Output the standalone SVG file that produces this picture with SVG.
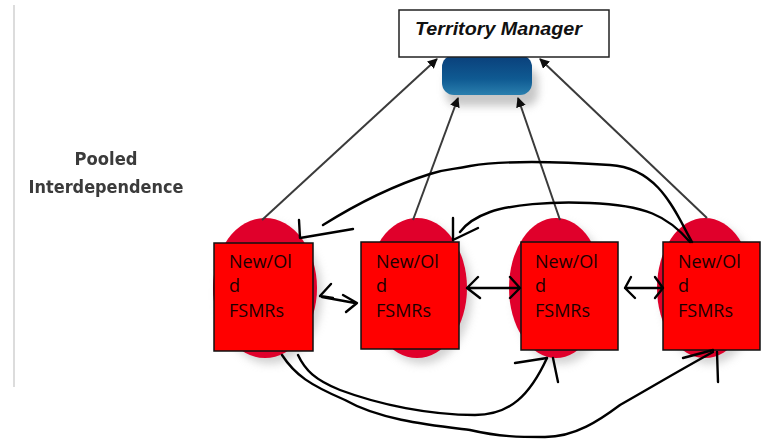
<svg xmlns="http://www.w3.org/2000/svg" width="761" height="439" viewBox="0 0 761 439">
  <defs>
    <style>
      .unit { fill: #e0002b; }
      .box { fill: #ff0000; stroke: #111; stroke-width: 1.5; }
      .label { font-family: "Open Sans", "Liberation Sans", sans-serif; font-size: 18px; fill: #1a0000; }
      .link { stroke: #3a3a3a; stroke-width: 2; fill: none; marker-end: url(#head); }
      .ink { stroke: #000; stroke-width: 2.4; fill: none; stroke-linecap: round; stroke-linejoin: round; }
    </style>
    <marker id="head" viewBox="0 0 10 10" refX="9" refY="5" markerWidth="5" markerHeight="5" orient="auto">
      <path d="M0,0 L10,5 L0,10 Z" fill="#111"/>
    </marker>
    <linearGradient id="hub" x1="0" y1="0" x2="0" y2="1">
      <stop offset="0" stop-color="#0a3f7a"/>
      <stop offset="0.6" stop-color="#0f5a92"/>
      <stop offset="1" stop-color="#2a7fae"/>
    </linearGradient>
    <filter id="shade" x="-30%" y="-30%" width="160%" height="160%">
      <feGaussianBlur stdDeviation="4"/>
    </filter>
    <filter id="soft" x="-10%" y="-10%" width="120%" height="120%">
      <feGaussianBlur stdDeviation="0.6"/>
    </filter>
  </defs>

  <rect width="761" height="439" fill="#fff"/>
  <line x1="14" y1="5" x2="14" y2="387" stroke="#dcdcdc" stroke-width="2"/>

  <g id="title" filter="url(#soft)">
    <text x="106" y="165" text-anchor="middle" font-family="DejaVu Sans, sans-serif" font-weight="bold" font-size="18" fill="#3a3a3a" textLength="63" lengthAdjust="spacingAndGlyphs">Pooled</text>
    <text x="106" y="193" text-anchor="middle" font-family="DejaVu Sans, sans-serif" font-weight="bold" font-size="18" fill="#3a3a3a" textLength="155" lengthAdjust="spacingAndGlyphs">Interdependence</text>
  </g>

  <g id="hub">
    <rect x="446" y="68" width="92" height="38" rx="12" fill="#9a9a9a" opacity="0.55" filter="url(#shade)"/>
    <rect x="442" y="55" width="90" height="40" rx="12" fill="url(#hub)"/>
  </g>

  <g id="manager">
    <rect x="399" y="10" width="210" height="47" fill="#fff" stroke="#222" stroke-width="1.5"/>
    <text x="415" y="35" font-family="Liberation Sans, sans-serif" font-weight="bold" font-style="italic" font-size="18" fill="#111" textLength="167" lengthAdjust="spacingAndGlyphs">Territory Manager</text>
  </g>

  <!-- drop shadows under the four units -->
  <g filter="url(#shade)" fill="#b5b5b5" opacity="0.6">
    <ellipse cx="270" cy="294" rx="52" ry="70"/>
    <ellipse cx="422" cy="294" rx="50" ry="70"/>
    <ellipse cx="561" cy="294" rx="47" ry="70"/>
    <ellipse cx="710" cy="294" rx="48" ry="70"/>
  </g>

  <g id="unit1">
    <ellipse class="unit" cx="265" cy="288" rx="52" ry="70"/>
    <rect class="box" x="214" y="243" width="99" height="108"/>
    <text class="label"><tspan x="229" y="268">New/Ol</tspan><tspan x="229" y="292">d</tspan><tspan x="229" y="317">FSMRs</tspan></text>
  </g>
  <g id="unit2">
    <ellipse class="unit" cx="417" cy="288" rx="50" ry="70"/>
    <rect class="box" x="361" y="242" width="98" height="107"/>
    <text class="label"><tspan x="376" y="268">New/Ol</tspan><tspan x="376" y="292">d</tspan><tspan x="376" y="317">FSMRs</tspan></text>
  </g>
  <g id="unit3">
    <ellipse class="unit" cx="556" cy="288" rx="47" ry="70"/>
    <rect class="box" x="521" y="242" width="97" height="108"/>
    <text class="label"><tspan x="535" y="268">New/Ol</tspan><tspan x="535" y="292">d</tspan><tspan x="535" y="317">FSMRs</tspan></text>
  </g>
  <g id="unit4">
    <ellipse class="unit" cx="705" cy="288" rx="48" ry="70"/>
    <rect class="box" x="663" y="242" width="97" height="108"/>
    <text class="label"><tspan x="678" y="268">New/Ol</tspan><tspan x="678" y="292">d</tspan><tspan x="678" y="317">FSMRs</tspan></text>
  </g>

  <g id="connectors">
    <!-- reporting lines up to the manager -->
    <g filter="url(#soft)">
      <line class="link" x1="262" y1="220" x2="437" y2="59"/>
      <line class="link" x1="413" y1="220" x2="458" y2="98"/>
      <line class="link" x1="560" y1="220" x2="518" y2="98"/>
      <line class="link" x1="707" y1="218" x2="540" y2="59"/>
    </g>

    <!-- hand-drawn links between units -->
    <path class="ink" d="M692,242 C676,214 660,168 610,165 C565,162 505,160 470,166 C452,170 448,168 430,174 C395,185 355,205 323,225"/>
    <path class="ink" d="M299,220 L300,238 L353,229"/>

    <path class="ink" d="M690,242 C668,216 645,205 590,203 C550,201 510,205 490,212 C476,217 466,224 460,232"/>
    <path class="ink" d="M453,218 L453,240 L478,228"/>

    <!-- peer exchanges -->
    <path class="ink" d="M331,284 L320,296 L333,298 M322,297 L355,303 M343,295 L357,303 L346,312"/>
    <path class="ink" d="M478,277 L467,288 L480,298 M467,288 L520,288 M510,277 L520,288 L510,298"/>
    <path class="ink" d="M631,277 L625,288 L635,298 M625,288 L663,288 M655,277 L663,288 L655,298"/>

    <!-- lower loops from unit 1 -->
    <path class="ink" d="M298,355 C305,370 315,380 340,390 C380,405 430,415 475,415 C510,415 530,395 547,358"/>
    <path class="ink" d="M515,363 L547,358 M553,358 L558,382"/>

    <path class="ink" d="M282,355 C295,375 310,385 345,400 C380,420 430,425 470,430 C500,437 520,437 545,437 C575,437 600,420 620,405 C650,388 680,370 713,352"/>
    <path class="ink" d="M683,358 L713,350 M717,352 L718,382"/>
  </g>
</svg>
